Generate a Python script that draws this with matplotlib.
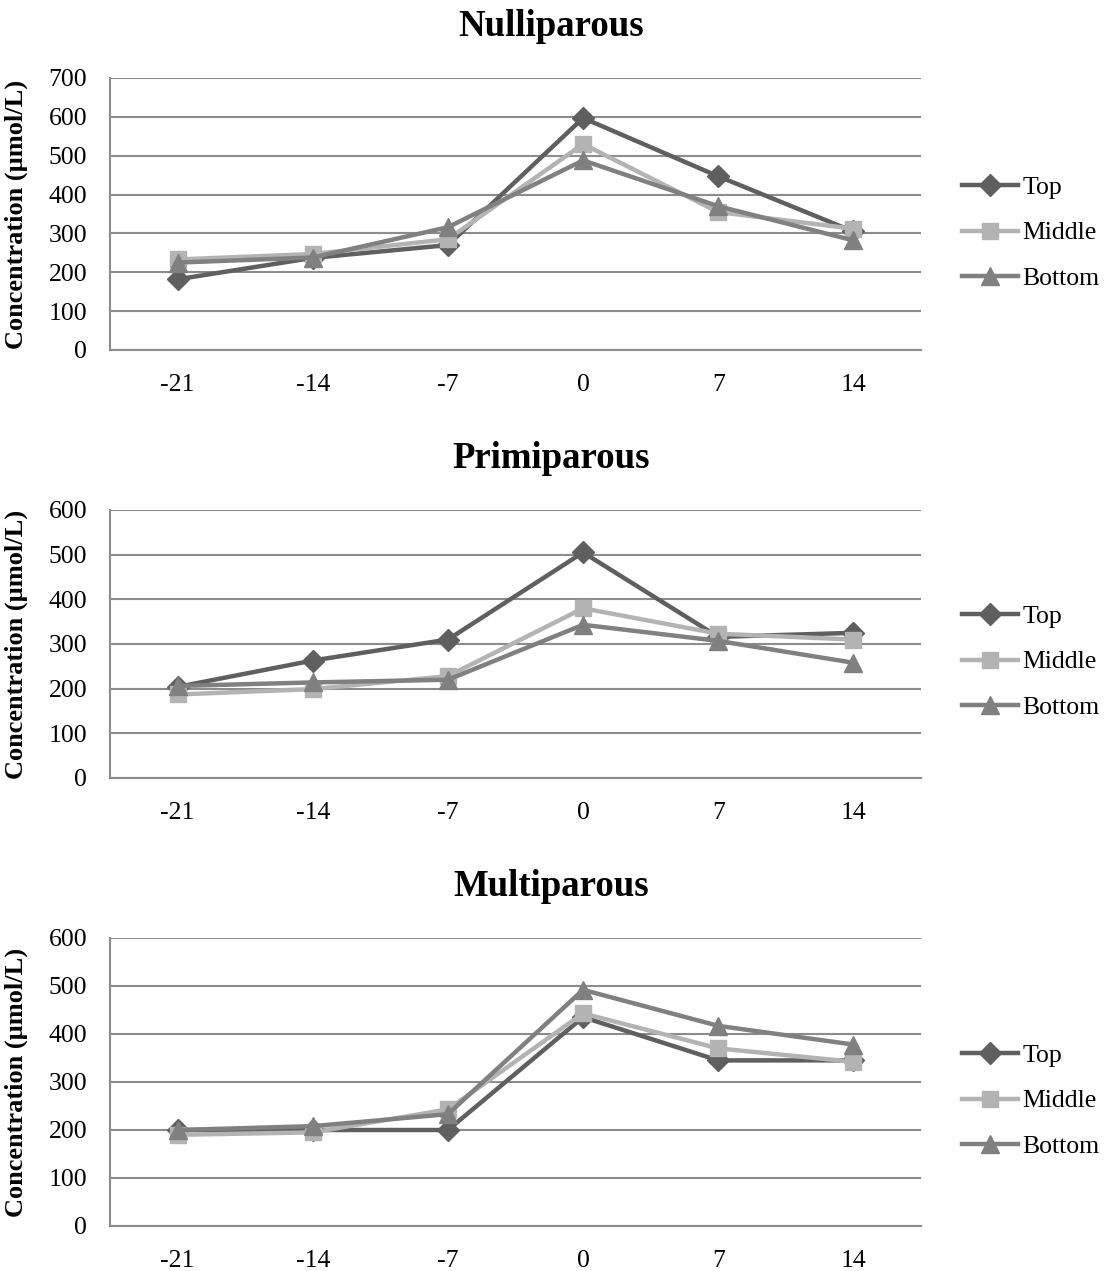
import matplotlib
matplotlib.use("Agg")
import matplotlib.pyplot as plt

plt.rcParams['font.family'] = ['Liberation Serif', 'DejaVu Serif']

days = ["-21", "-14", "-7", "0", "7", "14"]
series = ["Top", "Middle", "Bottom"]

# Nulliparous
nulli_top = [182, 237, 270, 597, 447, 305]
nulli_middle = [233, 247, 285, 530, 355, 312]
nulli_bottom = [225, 238, 316, 488, 370, 282]

# Primiparous
primi_top = [204, 263, 310, 505, 316, 325]
primi_middle = [187, 199, 228, 380, 323, 310]
primi_bottom = [206, 214, 220, 343, 307, 258]

# Multiparous
multi_top = [200, 200, 200, 435, 345, 345]
multi_middle = [190, 195, 243, 443, 370, 342]
multi_bottom = [200, 208, 233, 492, 417, 378]

titles = ["Nulliparous", "Primiparous", "Multiparous"]
ymax = [700, 600, 600]
panel_data = [
    [nulli_top, nulli_middle, nulli_bottom],
    [primi_top, primi_middle, primi_bottom],
    [multi_top, multi_middle, multi_bottom],
]

colors = ["#5f5f5f", "#b3b3b3", "#808080"]
markers = ["D", "s", "^"]
msizes = [11, 12, 13]

W, H = 1109, 1271
fig = plt.figure(figsize=(W / 100, H / 100), dpi=100)

# pixel layout (top, bottom) of each plot area, title y, legend centre y
boxes = [(78, 350), (510, 778), (938, 1226)]
title_y = [27, 458, 886]
leg_y = [233, 662, 1101]

for i in range(3):
    top, bot = boxes[i]
    ax = fig.add_axes([110 / W, 1 - bot / H, 811 / W, (bot - top) / H])
    x = [k + 0.5 for k in range(len(days))]
    for j in range(3):
        ax.plot(x, panel_data[i][j], color=colors[j], marker=markers[j],
                markersize=msizes[j], linewidth=3.2, label=series[j],
                clip_on=False, zorder=3)
    ax.set_xlim(0, 6)
    ax.set_ylim(0, ymax[i])
    ax.set_yticks(range(0, ymax[i] + 1, 100))
    ax.set_xticks(x)
    ax.set_xticklabels(days)
    ax.grid(axis='y', color="#8c8c8c", linewidth=1.5)
    ax.set_axisbelow(True)
    for s in ["top", "right"]:
        ax.spines[s].set_visible(False)
    for s in ["left", "bottom"]:
        ax.spines[s].set_color("#8c8c8c")
        ax.spines[s].set_linewidth(1.5)
    ax.tick_params(axis='both', length=0, labelsize=18.5)
    ax.tick_params(axis='y', pad=16.5)
    ax.tick_params(axis='x', pad=17)
    ax.set_ylabel("Concentration (µmol/L)", fontsize=19, fontweight='bold')
    ax.yaxis.set_label_coords(-82 / 811, 0.5)
    fig.text(551 / W, 1 - title_y[i] / H, titles[i], ha='center', va='center',
             fontsize=26.5, fontweight='bold')
    ax.legend(loc='center left', bbox_to_anchor=(952 / W, 1 - leg_y[i] / H),
              bbox_transform=fig.transFigure, frameon=False, fontsize=18.5,
              handlelength=2.15, handletextpad=0.2, labelspacing=0.87,
              borderaxespad=0)

fig.savefig("out.png", dpi=100)
